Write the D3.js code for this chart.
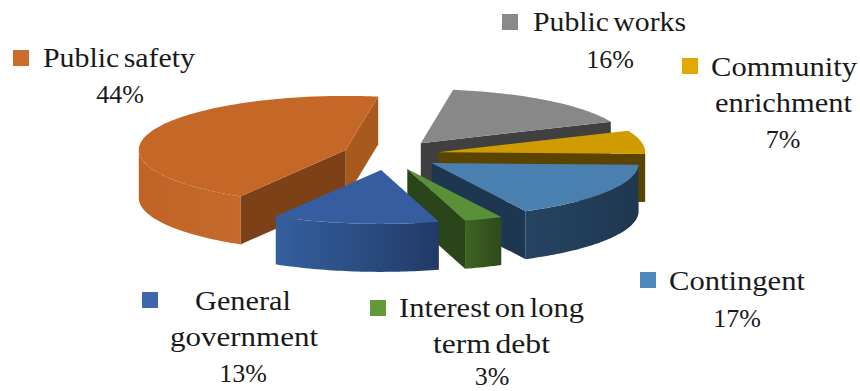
<!DOCTYPE html>
<html>
<head>
<meta charset="utf-8">
<script src="https://cdn.jsdelivr.net/npm/d3@7/dist/d3.min.js"></script>
<style>
html,body{margin:0;padding:0;background:#fff}
svg{display:block}
text{font-family:"Liberation Serif",serif;fill:#1a1a1a}
.name{font-size:28px;word-spacing:-3px}
.pct{font-size:26px}
</style>
</head>
<body>
<svg id="chart" width="860" height="391"></svg>
<script>
// Slices in clockwise order, starting from the back of the pie
const categories = ["Public works","Community enrichment","Contingent","Interest on long term debt","General government","Public safety"];
const shares = [16,7,17,3,13,44];

const topColors  = ["#888888","#d09b00","#4a80b0","#5a9037","#365d9f","#c46727"];
const keyColors  = ["#8a8a8a","#e0a800","#4f88bd","#619a3d","#3f66ad","#c96c2c"];
const startShade = ["#404040","#5a4400","#1e3751","#2a451a","#223a66","#7d4118"];
const endShade   = ["#404040","#5a4400","#1e3751","#2a451a","#223a66","#a85a1e"];
const wallFrom   = ["#404040","#5a4400","#254462","#3f6424","#34609f","#bf6426"];
const wallTo     = ["#404040","#5a4400","#1f3750","#2d4a1b","#223a66","#c46a2b"];
const apexShift  = [2,2,2,0,-3,0];   // small per-slice horizontal explosion trim

// Label blocks: key square, per-line text anchors, and the percentage line
const labelLayout = [
  {key:[502,14], lines:[["Public works",533,31,153]], pct:[610,68]},
  {key:[682,58], lines:[["Community",711,76,146],["enrichment",715,112,137]], pct:[783,148]},
  {key:[640,272], lines:[["Contingent",669,290,136]], pct:[737,327]},
  {key:[370,300], lines:[["Interest on long",399,317,185],["term debt",433,353,117]], pct:[492,385]},
  {key:[142,292], lines:[["General",195,310,96],["government",170,346,148]], pct:[243,382]},
  {key:[13,50], lines:[["Public safety",43,67,152]], pct:[120,103]}
];

const cx = 390, cy = 155;     // pie centre
const rx = 207, ry = 54;      // projected rim ellipse
const depth = 48;             // extrusion height
const pullX = 47, pullY = 15; // how far each slice is exploded

const svg = d3.select("#chart");
const defs = svg.append("defs");
const pie = d3.pie().sort(null)
  .startAngle(9 * Math.PI / 180)
  .endAngle(369 * Math.PI / 180);
const arcs = pie(shares);
const line = d3.line();
const rim = (apex, a) => [apex[0] + rx * Math.sin(a), apex[1] - ry * Math.cos(a)];
const sampleRim = (apex, a0, a1) => {
  const n = Math.max(2, Math.ceil((a1 - a0) / 0.02));
  return d3.range(n + 1).map(i => rim(apex, a0 + (a1 - a0) * i / n));
};
const down = p => [p[0], p[1] + depth];

// Back-to-front paint order
const paintOrder = [0,1,2,5,3,4];

paintOrder.forEach(i => {
  const d = arcs[i];
  const mid = (d.startAngle + d.endAngle) / 2;
  const apex = [cx + apexShift[i] + pullX * Math.sin(mid), cy - pullY * Math.cos(mid)];
  const g = svg.append("g");
  const p0 = rim(apex, d.startAngle), p1 = rim(apex, d.endAngle);

  // Radial cut faces are drawn only when they turn towards the viewer
  const startFacing = Math.sin(d.startAngle) < 0;
  const endFacing = Math.sin(d.endAngle) > 0;
  if (startFacing) g.append("path")
    .attr("d", line([apex, p0, down(p0), down(apex)]) + "Z").attr("fill", startShade[i]);
  if (endFacing) g.append("path")
    .attr("d", line([apex, p1, down(p1), down(apex)]) + "Z").attr("fill", endShade[i]);

  // Outer wall along the front half of the rim
  const a0 = Math.max(d.startAngle, Math.PI / 2);
  const a1 = Math.min(d.endAngle, 3 * Math.PI / 2);
  if (a1 > a0) {
    const pts = sampleRim(apex, a0, a1);
    const xs = d3.extent(pts, p => p[0]);
    const id = "wall" + i;
    const grad = defs.append("linearGradient").attr("id", id)
      .attr("gradientUnits", "userSpaceOnUse")
      .attr("x1", xs[0]).attr("x2", xs[1]).attr("y1", 0).attr("y2", 0);
    grad.append("stop").attr("offset", 0).attr("stop-color", wallFrom[i]);
    grad.append("stop").attr("offset", 1).attr("stop-color", wallTo[i]);
    g.append("path")
      .attr("d", line(pts.concat(pts.slice().reverse().map(down))) + "Z")
      .attr("fill", `url(#${id})`);
  }

  // Top face
  g.append("path")
    .attr("d", line([apex].concat(sampleRim(apex, d.startAngle, d.endAngle))) + "Z")
    .attr("fill", topColors[i]);
});

// Legend-style data labels
labelLayout.forEach((l, i) => {
  svg.append("rect").attr("x", l.key[0]).attr("y", l.key[1])
    .attr("width", 16).attr("height", 16).attr("fill", keyColors[i]);
  l.lines.forEach(t => {
    svg.append("text").attr("class", "name").attr("x", t[1]).attr("y", t[2])
      .attr("textLength", t[3]).attr("lengthAdjust", "spacingAndGlyphs").text(t[0]);
  });
  svg.append("text").attr("class", "pct").attr("x", l.pct[0]).attr("y", l.pct[1])
    .attr("text-anchor", "middle").text(shares[i] + "%");
});
</script>
</body>
</html>
